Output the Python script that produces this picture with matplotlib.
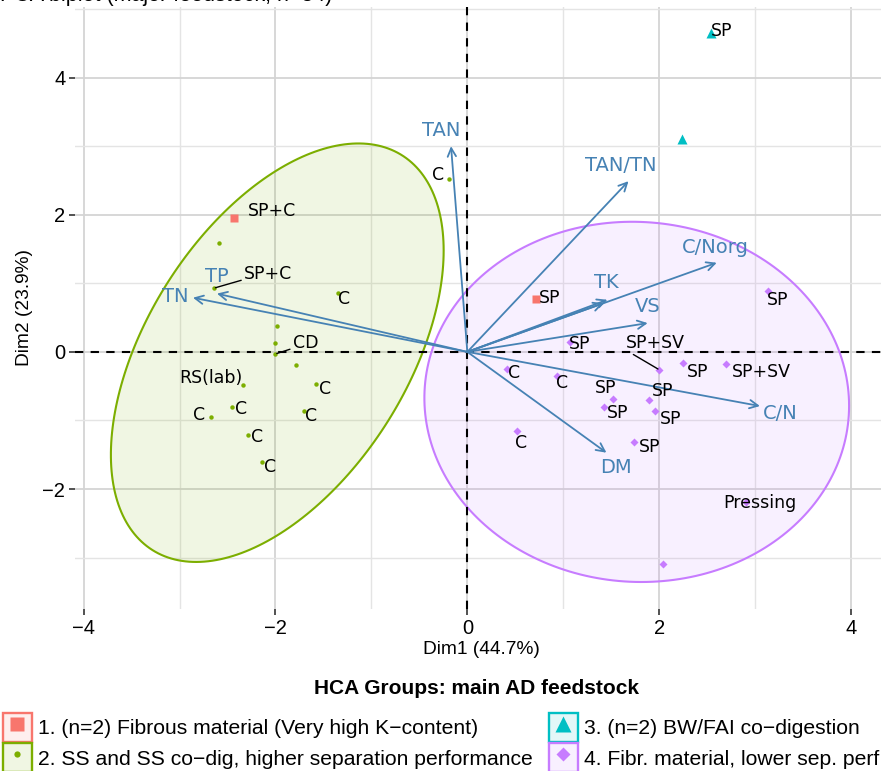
import numpy as np
import matplotlib.pyplot as plt
from matplotlib.colors import to_rgb
from matplotlib.patches import Rectangle, Polygon
from matplotlib.lines import Line2D
from matplotlib.legend_handler import HandlerTuple

# individuals (PCA scores), by HCA group
g1_x = [-2.43, 0.72]
g1_y = [1.95, 0.77]
g1_lab = ["SP+C", "SP"]

g2_x = [-0.19, -2.59, -2.64, -1.35, -1.98, -2.01, -2.00, -1.79, -2.34, -1.58, -2.45, -1.70, -2.67, -2.29, -2.14]
g2_y = [2.52, 1.59, 0.93, 0.86, 0.38, 0.13, -0.03, -0.19, -0.48, -0.47, -0.80, -0.86, -0.95, -1.21, -1.60]
g2_lab = ["C", "", "SP+C", "C", "", "", "CD", "", "RS(lab)", "C", "C", "C", "C", "C", "C"]

g3_x = [2.54, 2.24]
g3_y = [4.65, 3.10]
g3_lab = ["SP", ""]

g4_x = [3.13, 1.07, 2.00, 2.25, 2.70, 0.41, 0.94, 1.52, 1.89, 1.42, 1.96, 0.52, 1.74, 2.90, 2.04]
g4_y = [0.89, 0.15, -0.26, -0.16, -0.17, -0.25, -0.35, -0.68, -0.70, -0.80, -0.86, -1.15, -1.31, -2.19, -3.10]
g4_lab = ["SP", "SP", "SP+SV", "SP", "SP+SV", "C", "C", "SP", "SP", "SP", "SP", "C", "SP", "Pressing", ""]

# variables (loadings, scaled)
var_names = ["TAN", "TAN/TN", "C/Norg", "TK", "", "VS", "C/N", "DM", "TN", "TP"]
var_x = [-0.17, 1.68, 2.60, 1.46, 1.42, 1.88, 3.05, 1.45, -2.86, -2.61]
var_y = [3.00, 2.49, 1.30, 0.76, 0.71, 0.42, -0.79, -1.47, 0.79, 0.85]

group_names = ["1. (n=2) Fibrous material (Very high K\u2212content)",
               "2. SS and SS co\u2212dig, higher separation performance",
               "3. (n=2) BW/FAI co\u2212digestion",
               "4. Fibr. material, lower sep. perf"]

# layout: label offsets in pixels (dx, dy) relative to each point
g1_off = [(38, 7), (13, 1)]
g2_off = [(-11, 4), None, (54, 14), (6, -6), None, None, (30, 11), None, (-32, 7),
          (9, -5), (9, -2), (7, -5), (-12, 2), (9, -2), (8, -5)]
g3_off = [(11, 2), None]
g4_off = [(10, -9), (10, -2), (-4, 27), (14, -9), (35, -8), (7, -4), (5, -7), (-8, 11),
          (14, 9), (14, -6), (15, -8), (4, -12), (15, -5), (14, -1), None]
seg_labels = {"g2": {2: (0, 0.2), 6: (0, 0.2)}, "g4": {2: (0.05, 0.0)}}
var_off = [(-10, 16), (-8, 16), (-1, 15), (-1, 17), (0, 0), (0, 17), (20, -7), (10, -15), (-18, 1), (0, 17)]

cols = ["#F8766D", "#7CAE00", "#00BFC4", "#C77CFF"]
arrow_col = "steelblue"

LAB = "DejaVu Sans"
SANS = "Liberation Sans"


def conf_ellipse(x, y, fq=3.7389, n=240):
    # normal-theory 95% ellipse, as stat_ellipse(type="norm")
    x = np.asarray(x)
    y = np.asarray(y)
    c = np.cov(x, y)
    r = np.sqrt(2 * fq)
    t = np.linspace(0, 2 * np.pi, n)
    circ = np.column_stack([np.cos(t), np.sin(t)])
    L = np.linalg.cholesky(c)
    return circ @ L.T * r + [x.mean(), y.mean()]


fig = plt.figure(figsize=(8.81, 7.71), dpi=100)
ax = fig.add_axes([75 / 881, (771 - 609) / 771, (887 - 75) / 881, (609 - 7) / 771])

ax.set_xlim(-4.09, 4.375)
ax.set_ylim(-3.75, 5.03)
for s in ax.spines.values():
    s.set_visible(False)
ax.set_xticks([-4, -2, 0, 2, 4])
ax.set_yticks([-2, 0, 2, 4])
ax.set_xticks([-3, -1, 1, 3], minor=True)
ax.set_yticks([-3, -1, 1, 3, 5], minor=True)
ax.grid(which="major", color="#d4d4d4", lw=1.3, zorder=0)
ax.grid(which="minor", color="#e4e4e4", lw=1.0, zorder=0)
ax.set_axisbelow(True)
ax.tick_params(which="major", length=4, width=1.2, color="#333333", pad=3, labelsize=14.5)
ax.tick_params(which="minor", length=0)
for t in ax.get_xticklabels() + ax.get_yticklabels():
    t.set_fontfamily(SANS)
ax.set_xlabel("Dim1 (44.7%)", fontsize=13.8, family=SANS, labelpad=2)
ax.set_ylabel("Dim2 (23.9%)", fontsize=13.8, family=SANS, labelpad=7)

# ellipses for groups 2 and 4
for gx, gy, c in [(g2_x, g2_y, cols[1]), (g4_x, g4_y, cols[3])]:
    e = conf_ellipse(gx, gy)
    ax.add_patch(Polygon(e, closed=True, facecolor=c, alpha=0.11, edgecolor="none", zorder=1))
    ax.add_patch(Polygon(e, closed=True, facecolor="none", edgecolor=c, lw=1.5, zorder=2))

ax.axhline(0, color="black", lw=1.5, ls=(0, (4, 3.5)), zorder=3)
ax.axvline(0, color="black", lw=1.5, ls=(0, (4, 3.5)), zorder=3)

# variable arrows
for name, vx, vy, off in zip(var_names, var_x, var_y, var_off):
    ax.annotate("", xy=(vx, vy), xytext=(0, 0),
                arrowprops=dict(arrowstyle="->,head_length=0.6,head_width=0.3",
                                color=arrow_col, lw=1.3, shrinkA=0, shrinkB=0), zorder=4)
    if name:
        ax.annotate(name, xy=(vx, vy), xytext=off, textcoords="offset pixels",
                    ha="center", va="center", fontsize=14, family=LAB,
                    color=arrow_col, zorder=6)

# individuals
groups = [
    ("g1", g1_x, g1_y, g1_lab, g1_off, "s", 6, cols[0]),
    ("g2", g2_x, g2_y, g2_lab, g2_off, "o", 3.2, cols[1]),
    ("g3", g3_x, g3_y, g3_lab, g3_off, "^", 6.5, cols[2]),
    ("g4", g4_x, g4_y, g4_lab, g4_off, "D", 3.8, cols[3]),
]
for key, gx, gy, labs, offs, mk, ms, c in groups:
    ax.plot(gx, gy, ls="", marker=mk, ms=ms, color=c, mec="none", zorder=5)
    segs = seg_labels.get(key, {})
    for i, (px, py, lab, off) in enumerate(zip(gx, gy, labs, offs)):
        if not lab:
            continue
        kw = dict(xy=(px, py), xytext=off, textcoords="offset pixels",
                  ha="center", va="center", fontsize=12.5, family=LAB, zorder=6)
        if i in segs:
            kw["arrowprops"] = dict(arrowstyle="-", color="black", lw=1.0,
                                    relpos=segs[i], shrinkA=0, shrinkB=1)
        ax.annotate(lab, **kw)

# title, cropped at the top edge in the reference
fig.text(0.0, 1 - 0.5 / 771, "PCA biplot (major feedstock, n=34)", fontsize=15.5,
         family=SANS, va="baseline", ha="left")

# legend
fig.text(476 / 881, 1 - 689 / 771, "HCA Groups: main AD feedstock", fontsize=15,
         family=SANS, weight="bold", ha="center", va="center")
leg_ms = [10, 4.5, 11, 7.5]
handles = []
for c, mk, ms in zip(cols, ["s", "o", "^", "D"], leg_ms):
    box = Rectangle((0, 0), 1, 1, facecolor=(*to_rgb(c), 0.11), edgecolor=c, lw=1.7)
    m = Line2D([], [], ls="", marker=mk, ms=ms, color=c, mec="none")
    handles.append((box, m))
fig.legend(handles, group_names, ncol=2, loc="upper left",
           bbox_to_anchor=(3 / 881, 1 - 713 / 771), frameon=False,
           prop={"family": SANS, "size": 15.2},
           handler_map={tuple: HandlerTuple(ndivide=1)},
           handlelength=1.37, handleheight=1.75, handletextpad=0.3,
           labelspacing=0.05, columnspacing=0.75, borderpad=0, borderaxespad=0)

fig.savefig("out.png", dpi=100)
